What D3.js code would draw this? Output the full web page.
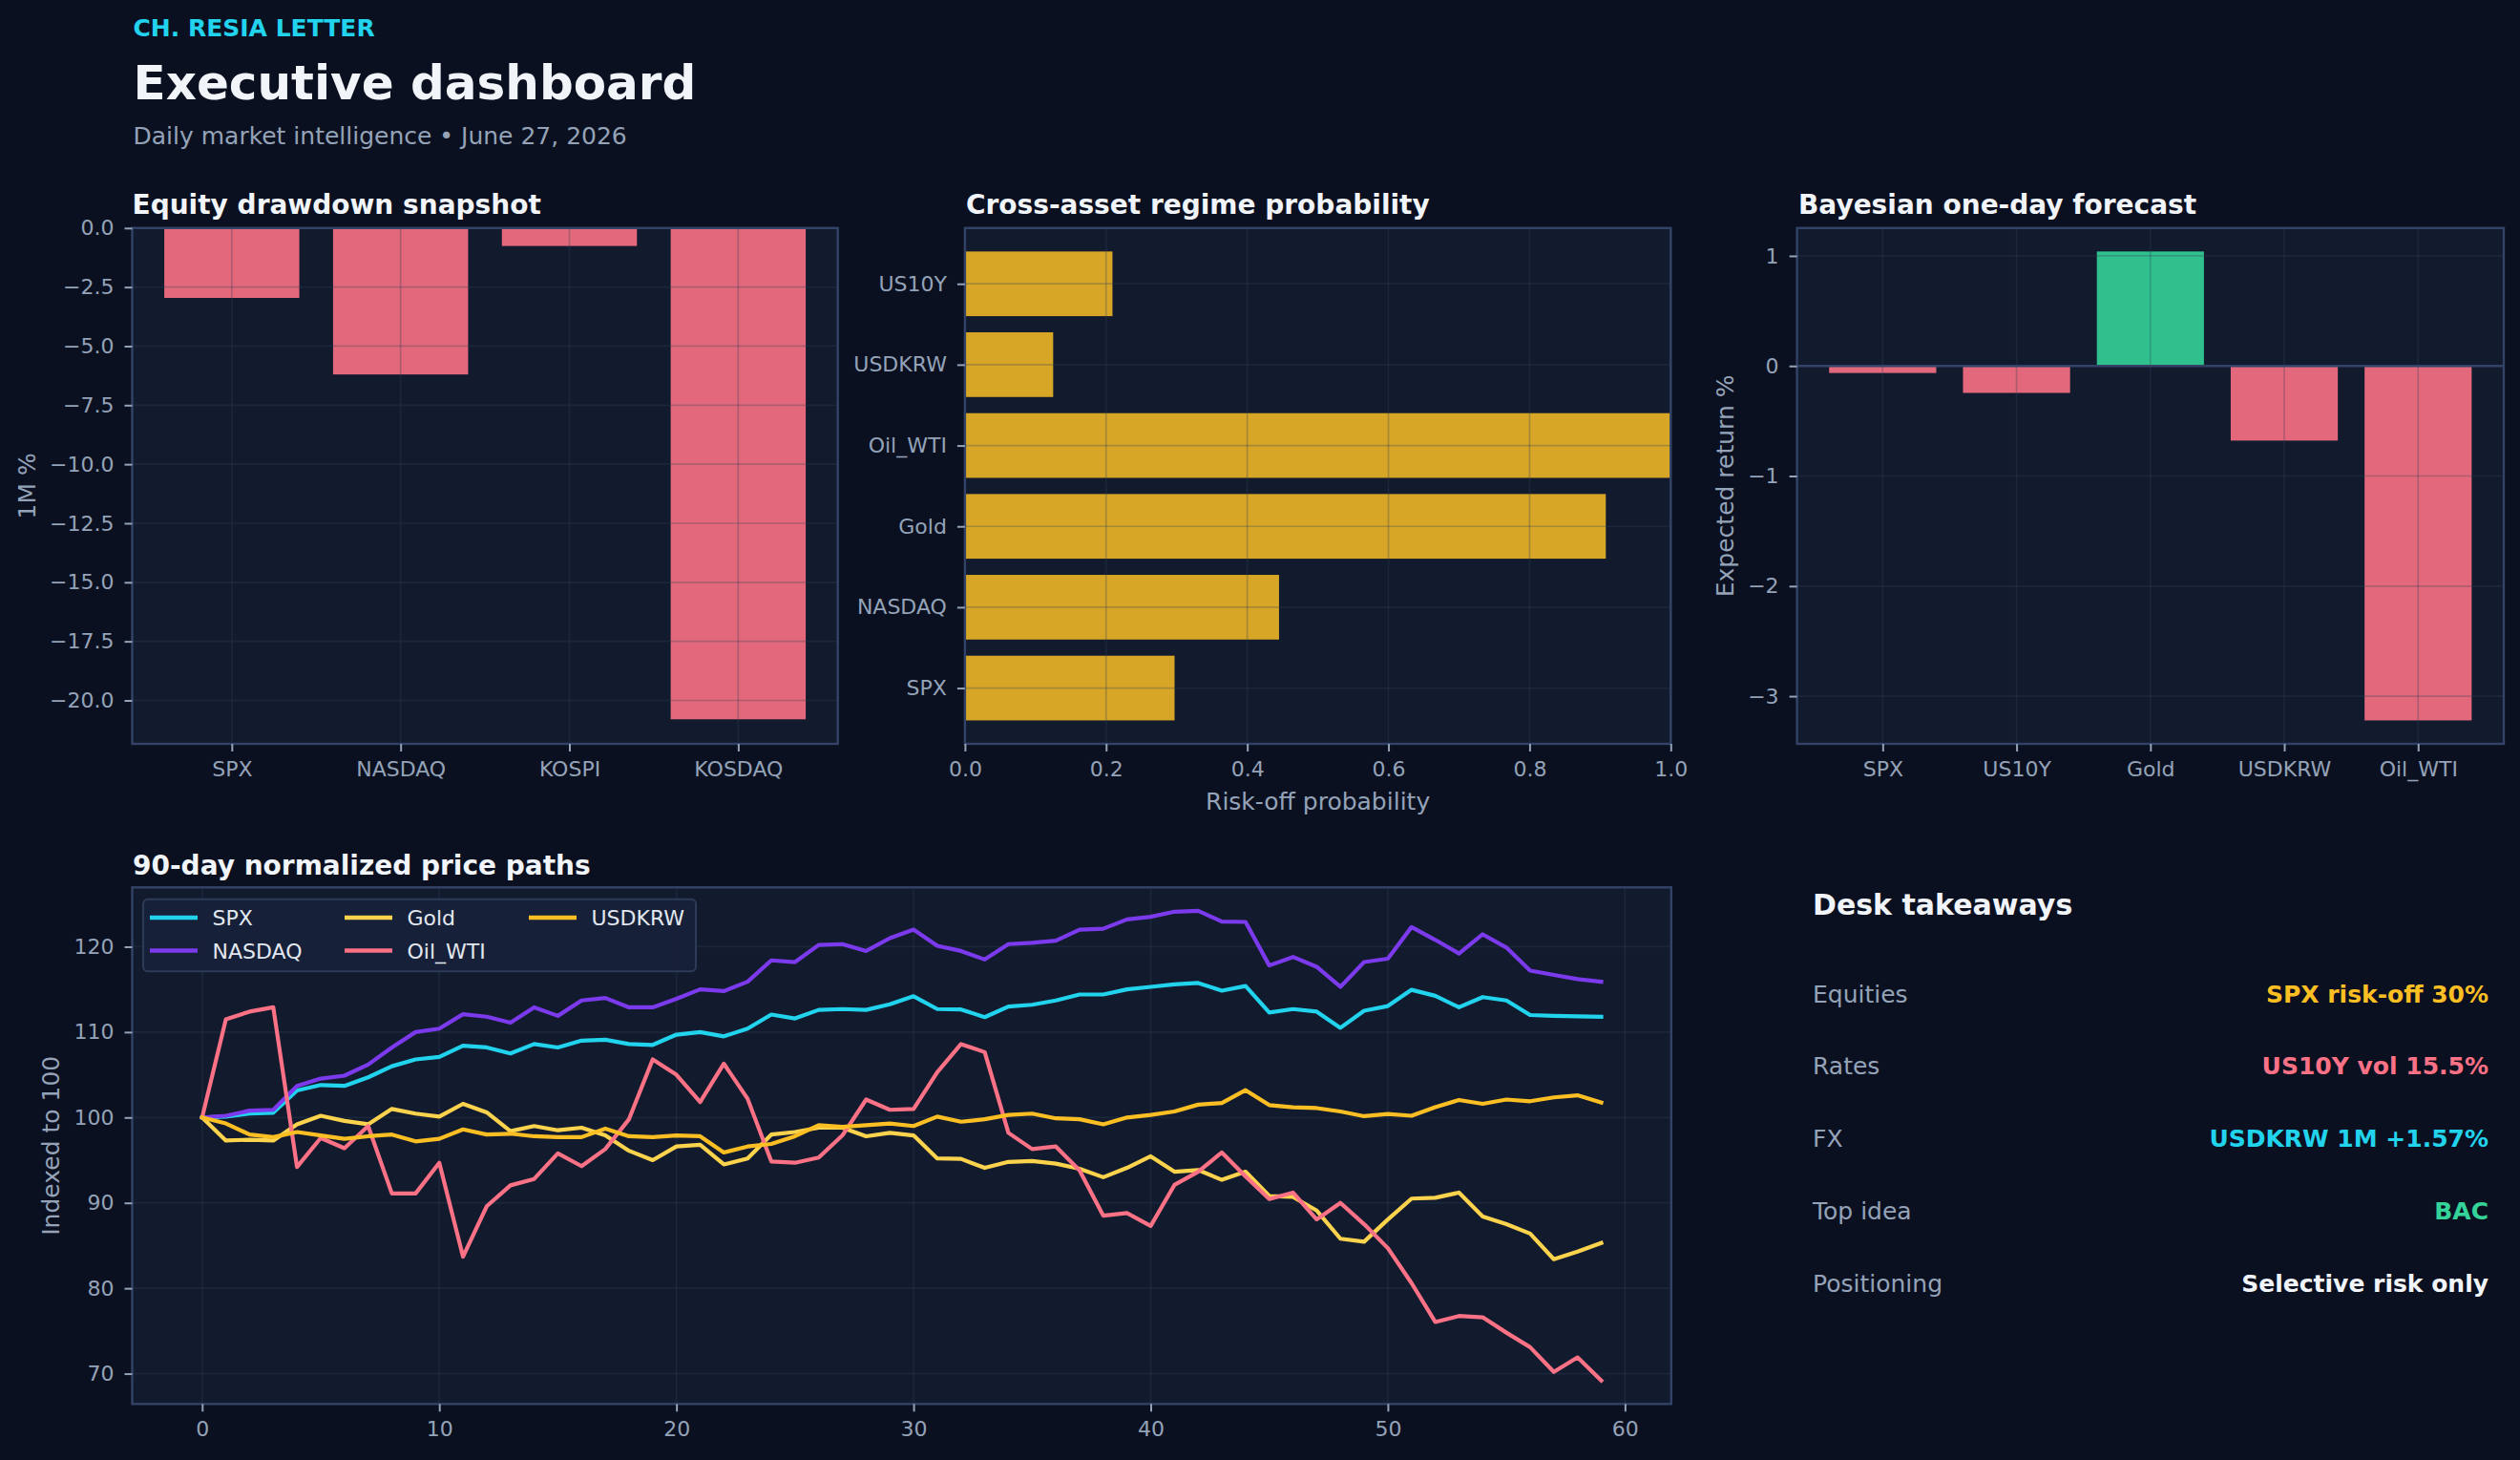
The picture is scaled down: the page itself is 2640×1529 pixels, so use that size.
<!DOCTYPE html>
<html>
<head>
<meta charset="utf-8">
<script src="https://cdn.jsdelivr.net/npm/d3@7"></script>
<style>
  html, body { margin: 0; padding: 0; background: #0b1020; }
  svg { display: block; }
</style>
</head>
<body>
<svg id="chart" width="2640" height="1529"></svg>
<script>
// ---------------- DATA ----------------
const drawdownCats = ["SPX", "NASDAQ", "KOSPI", "KOSDAQ"];
const drawdownVals = [-2.96, -6.2, -0.76, -20.8];
const drawdownTicks = [0, -2.5, -5, -7.5, -10, -12.5, -15, -17.5, -20];

const regimeCats = ["SPX", "NASDAQ", "Gold", "Oil_WTI", "USDKRW", "US10Y"]; // bottom -> top
const regimeVals = [0.297, 0.445, 0.908, 1.0, 0.125, 0.209];
const regimeTicks = [0, 0.2, 0.4, 0.6, 0.8, 1.0];

const forecastCats = ["SPX", "US10Y", "Gold", "USDKRW", "Oil_WTI"];
const forecastVals = [-0.064, -0.245, 1.04, -0.678, -3.22];
const forecastTicks = [1, 0, -1, -2, -3];

const pathSeries = ["SPX", "NASDAQ", "Gold", "Oil_WTI", "USDKRW"];
const spx = [100,100.1,100.45,100.56,103.17,103.8,103.7,104.7,106.0,106.8,107.1,108.4,108.2,107.5,108.6,108.2,109.0,109.1,108.6,108.5,109.7,110.0,109.5,110.4,112.05,111.6,112.6,112.7,112.6,113.25,114.2,112.7,112.65,111.75,113.0,113.2,113.7,114.4,114.4,115.0,115.3,115.6,115.75,114.85,115.4,112.3,112.7,112.4,110.5,112.5,113.05,114.95,114.25,112.9,114.1,113.7,112.0,111.9,111.85,111.8];
const nasdaq = [100,100.2,100.8,100.9,103.7,104.55,104.9,106.2,108.2,110.0,110.4,112.1,111.8,111.1,112.9,111.9,113.7,114.0,112.9,112.9,113.9,115.0,114.8,115.9,118.4,118.2,120.2,120.3,119.5,121.0,122.0,120.1,119.5,118.5,120.3,120.45,120.7,122.0,122.1,123.2,123.5,124.1,124.2,122.95,122.9,117.8,118.8,117.65,115.3,118.2,118.6,122.3,120.8,119.2,121.45,119.9,117.2,116.7,116.2,115.9];
const gold = [100,97.3,97.4,97.3,99.2,100.2,99.6,99.2,101.0,100.45,100.1,101.6,100.6,98.4,99.0,98.5,98.8,97.9,96.1,95.0,96.6,96.8,94.5,95.2,98.0,98.3,98.8,98.8,97.8,98.2,97.9,95.2,95.15,94.1,94.8,94.9,94.6,94.0,93.0,94.1,95.45,93.65,93.85,92.7,93.65,90.8,90.7,89.1,85.8,85.45,88.05,90.5,90.6,91.2,88.4,87.5,86.4,83.4,84.3,85.3];
const oil = [100,111.5,112.4,112.9,94.2,97.6,96.4,99.0,91.1,91.1,94.7,83.7,89.6,92.05,92.8,95.8,94.3,96.3,99.8,106.8,105.0,101.8,106.3,102.2,94.85,94.7,95.3,97.9,102.1,100.9,101.0,105.3,108.6,107.65,98.2,96.3,96.6,93.8,88.5,88.8,87.3,92.1,93.65,95.9,93.1,90.45,91.2,88.05,90.0,87.5,84.7,80.6,76.05,76.75,76.6,74.8,73.1,70.2,71.9,69.2];
const usdkrw = [100,99.3,98.0,97.7,98.3,97.9,97.5,97.8,98.0,97.2,97.5,98.6,98.0,98.1,97.8,97.7,97.7,98.7,97.8,97.7,97.9,97.8,95.9,96.6,96.9,97.8,99.1,98.9,99.1,99.3,99.0,100.1,99.5,99.8,100.3,100.45,99.9,99.8,99.2,100.0,100.3,100.7,101.5,101.7,103.2,101.45,101.2,101.1,100.7,100.15,100.4,100.2,101.2,102.05,101.6,102.1,101.9,102.35,102.6,101.75];
const pathXTicks = [0, 10, 20, 30, 40, 50, 60];
const pathYTicks = [70, 80, 90, 100, 110, 120];

const takeawayLabels = ["Equities", "Rates", "FX", "Top idea", "Positioning"];
const takeawayValues = ["SPX risk-off 30%", "US10Y vol 15.5%", "USDKRW 1M +1.57%", "BAC", "Selective risk only"];

// ---------------- STYLE ----------------
const FONT = "'DejaVu Sans', 'Liberation Sans', sans-serif";
const C = {
  bg: "#0b1020", panel: "#121a2e", spine: "#334367", grid: "#334155",
  tick: "#94a3b8", title: "#f1f5f9", cyan: "#22d3ee", violet: "#7c3aed",
  gold: "#fcd34d", amber: "#fbbf24", rose: "#fb7185", green: "#34d399",
  legendText: "#e2e8f0"
};
const seriesColors = { SPX: C.cyan, NASDAQ: C.violet, Gold: C.gold, Oil_WTI: C.rose, USDKRW: C.amber };
const seriesData = { SPX: spx, NASDAQ: nasdaq, Gold: gold, Oil_WTI: oil, USDKRW: usdkrw };

const svg = d3.select("#chart");
svg.append("rect").attr("width", 2640).attr("height", 1529).attr("fill", C.bg);

function text(x, y, str, size, color, weight, anchor) {
  return svg.append("text").attr("x", x).attr("y", y).text(str)
    .attr("font-family", FONT).attr("font-size", size).attr("fill", color)
    .attr("font-weight", weight || "normal").attr("text-anchor", anchor || "start");
}
function vlabel(x, y, str) {
  svg.append("text").attr("transform", `translate(${x},${y}) rotate(-90)`)
    .attr("text-anchor", "middle").attr("font-family", FONT).attr("font-size", 25)
    .attr("fill", C.tick).text(str);
}
function styleAxis(g) {
  g.select(".domain").remove();
  g.attr("font-family", FONT).attr("font-size", 22);
  g.selectAll(".tick line").attr("stroke", C.tick).attr("stroke-width", 2);
  g.selectAll(".tick text").attr("fill", C.tick);
}
function catScale(n, r0, r1) {
  const pad = 0.05 * (n - 1 + 0.8);
  return d3.scaleLinear().domain([-0.4 - pad, n - 1 + 0.4 + pad]).range([r0, r1]);
}
function panelBg(b) {
  svg.append("rect").attr("x", b.x0).attr("y", b.y0).attr("width", b.x1 - b.x0).attr("height", b.y1 - b.y0).attr("fill", C.panel);
}
function spines(b) {
  svg.append("rect").attr("x", b.x0).attr("y", b.y0).attr("width", b.x1 - b.x0).attr("height", b.y1 - b.y0)
    .attr("fill", "none").attr("stroke", C.spine).attr("stroke-width", 2.4);
}
function gridV(b, xs) {
  svg.append("g").selectAll("line").data(xs).join("line")
    .attr("x1", d => d).attr("x2", d => d).attr("y1", b.y0).attr("y2", b.y1)
    .attr("stroke", C.grid).attr("stroke-opacity", 0.3).attr("stroke-width", 1.7);
}
function gridH(b, ys) {
  svg.append("g").selectAll("line").data(ys).join("line")
    .attr("y1", d => d).attr("y2", d => d).attr("x1", b.x0).attr("x2", b.x1)
    .attr("stroke", C.grid).attr("stroke-opacity", 0.3).attr("stroke-width", 1.7);
}

// ---------------- HEADER ----------------
text(139.5, 38, "CH. RESIA LETTER", 25, C.cyan, "bold");
text(139.5, 104, "Executive dashboard", 50, C.title, "bold");
text(139.5, 150.5, "Daily market intelligence \u2022 June 27, 2026", 25, C.tick);

// ---------------- PANEL 1: drawdown ----------------
{
  const b = { x0: 138.5, x1: 877.7, y0: 238.8, y1: 779 };
  text(b.x0, 223.5, "Equity drawdown snapshot", 28, C.title, "bold");
  panelBg(b);
  const x = catScale(drawdownCats.length, b.x0, b.x1);
  const ymin = d3.min(drawdownVals);
  const y = d3.scaleLinear().domain([ymin + 0.05 * ymin, 0]).range([b.y1, b.y0]);
  svg.append("g").selectAll("rect").data(drawdownVals).join("rect")
    .attr("x", (d, i) => x(i - 0.4)).attr("width", x(0.4) - x(-0.4))
    .attr("y", y(0)).attr("height", d => y(d) - y(0))
    .attr("fill", C.rose).attr("fill-opacity", 0.9);
  gridV(b, drawdownCats.map((c, i) => x(i)));
  gridH(b, drawdownTicks.map(y));
  spines(b);
  const gx = svg.append("g").attr("transform", `translate(0,${b.y1})`)
    .call(d3.axisBottom(x).tickValues(d3.range(drawdownCats.length)).tickFormat(i => drawdownCats[i]).tickSize(8).tickPadding(10));
  styleAxis(gx);
  const gy = svg.append("g").attr("transform", `translate(${b.x0},0)`)
    .call(d3.axisLeft(y).tickValues(drawdownTicks).tickFormat(d3.format(".1f")).tickSize(8).tickPadding(11));
  styleAxis(gy);
  vlabel(37, (b.y0 + b.y1) / 2, "1M %");
}

// ---------------- PANEL 2: regime probability ----------------
{
  const b = { x0: 1010.9, x1: 1750.3, y0: 238.8, y1: 779 };
  text(1012, 223.5, "Cross-asset regime probability", 28, C.title, "bold");
  panelBg(b);
  const x = d3.scaleLinear().domain([0, 1]).range([b.x0, b.x1]);
  const y = catScale(regimeCats.length, b.y1, b.y0);
  svg.append("g").selectAll("rect").data(regimeVals).join("rect")
    .attr("x", x(0)).attr("width", d => x(d) - x(0))
    .attr("y", (d, i) => y(i + 0.4)).attr("height", y(-0.4) - y(0.4))
    .attr("fill", C.amber).attr("fill-opacity", 0.85);
  gridV(b, regimeTicks.map(x));
  gridH(b, regimeCats.map((c, i) => y(i)));
  spines(b);
  const gx = svg.append("g").attr("transform", `translate(0,${b.y1})`)
    .call(d3.axisBottom(x).tickValues(regimeTicks).tickFormat(d3.format(".1f")).tickSize(8).tickPadding(10));
  styleAxis(gx);
  const gy = svg.append("g").attr("transform", `translate(${b.x0},0)`)
    .call(d3.axisLeft(y).tickValues(d3.range(regimeCats.length)).tickFormat(i => regimeCats[i]).tickSize(8).tickPadding(11));
  styleAxis(gy);
  text((b.x0 + b.x1) / 2, 848, "Risk-off probability", 25, C.tick, "normal", "middle");
}

// ---------------- PANEL 3: forecast ----------------
{
  const b = { x0: 1882.6, x1: 2623, y0: 238.8, y1: 779 };
  text(1884, 223.5, "Bayesian one-day forecast", 28, C.title, "bold");
  panelBg(b);
  const x = catScale(forecastCats.length, b.x0, b.x1);
  const [lo, hi] = d3.extent(forecastVals);
  const m = 0.05 * (hi - lo);
  const y = d3.scaleLinear().domain([lo - m, hi + m]).range([b.y1, b.y0]);
  svg.append("g").selectAll("rect").data(forecastVals).join("rect")
    .attr("x", (d, i) => x(i - 0.4)).attr("width", x(0.4) - x(-0.4))
    .attr("y", d => Math.min(y(d), y(0))).attr("height", d => Math.abs(y(d) - y(0)))
    .attr("fill", d => d >= 0 ? C.green : C.rose).attr("fill-opacity", 0.9);
  gridV(b, forecastCats.map((c, i) => x(i)));
  gridH(b, forecastTicks.map(y));
  svg.append("line").attr("x1", b.x0).attr("x2", b.x1).attr("y1", y(0)).attr("y2", y(0))
    .attr("stroke", C.spine).attr("stroke-width", 2.6);
  spines(b);
  const gx = svg.append("g").attr("transform", `translate(0,${b.y1})`)
    .call(d3.axisBottom(x).tickValues(d3.range(forecastCats.length)).tickFormat(i => forecastCats[i]).tickSize(8).tickPadding(10));
  styleAxis(gx);
  const gy = svg.append("g").attr("transform", `translate(${b.x0},0)`)
    .call(d3.axisLeft(y).tickValues(forecastTicks).tickFormat(d3.format("d")).tickSize(8).tickPadding(11));
  styleAxis(gy);
  vlabel(1816, (b.y0 + b.y1) / 2, "Expected return %");
}

// ---------------- PANEL 4: price paths ----------------
{
  const b = { x0: 138.5, x1: 1750.8, y0: 929.3, y1: 1470.3 };
  text(139, 915.6, "90-day normalized price paths", 28, C.title, "bold");
  panelBg(b);
  const n = spx.length;
  const xm = 0.05 * (n - 1);
  const x = d3.scaleLinear().domain([-xm, n - 1 + xm]).range([b.x0, b.x1]);
  const all = pathSeries.flatMap(s => seriesData[s]);
  const [lo, hi] = d3.extent(all);
  const ym = 0.05 * (hi - lo);
  const y = d3.scaleLinear().domain([lo - ym, hi + ym]).range([b.y1, b.y0]);
  gridV(b, pathXTicks.map(x));
  gridH(b, pathYTicks.map(y));
  const line = d3.line().x((d, i) => x(i)).y(d => y(d));
  pathSeries.forEach(s => {
    svg.append("path").attr("d", line(seriesData[s])).attr("fill", "none")
      .attr("stroke", seriesColors[s]).attr("stroke-width", 4.2)
      .attr("stroke-linejoin", "round").attr("stroke-linecap", "square");
  });
  // legend
  const lg = svg.append("g");
  lg.append("rect").attr("x", 150).attr("y", 941.7).attr("width", 579).attr("height", 75.5).attr("rx", 5)
    .attr("fill", "#172139").attr("fill-opacity", 0.95).attr("stroke", "#2e3b58").attr("stroke-width", 2);
  const cols = [157, 361, 554];
  const rows = [961, 995.5];
  pathSeries.forEach((s, k) => {
    const cx = cols[Math.floor(k / 2)], cy = rows[k % 2];
    lg.append("line").attr("x1", cx).attr("x2", cx + 50).attr("y1", cy).attr("y2", cy)
      .attr("stroke", seriesColors[s]).attr("stroke-width", 4.4);
    lg.append("text").attr("x", cx + 65.5).attr("y", cy + 8).text(s)
      .attr("font-family", FONT).attr("font-size", 22).attr("fill", C.legendText);
  });
  spines(b);
  const gx = svg.append("g").attr("transform", `translate(0,${b.y1})`)
    .call(d3.axisBottom(x).tickValues(pathXTicks).tickFormat(d3.format("d")).tickSize(8).tickPadding(10));
  styleAxis(gx);
  const gy = svg.append("g").attr("transform", `translate(${b.x0},0)`)
    .call(d3.axisLeft(y).tickValues(pathYTicks).tickFormat(d3.format("d")).tickSize(8).tickPadding(11));
  styleAxis(gy);
  vlabel(62, (b.y0 + b.y1) / 2, "Indexed to 100");
}

// ---------------- DESK TAKEAWAYS ----------------
{
  text(1899, 958, "Desk takeaways", 30, C.title, "bold");
  const valueColors = [C.amber, C.rose, C.cyan, C.green, C.title];
  const baselines = [1049.5, 1125.3, 1201, 1277, 1352.6];
  takeawayLabels.forEach((l, i) => {
    text(1899, baselines[i], l, 25, C.tick);
    text(2607, baselines[i], takeawayValues[i], 25, valueColors[i], "bold", "end");
  });
}
</script>
</body>
</html>
